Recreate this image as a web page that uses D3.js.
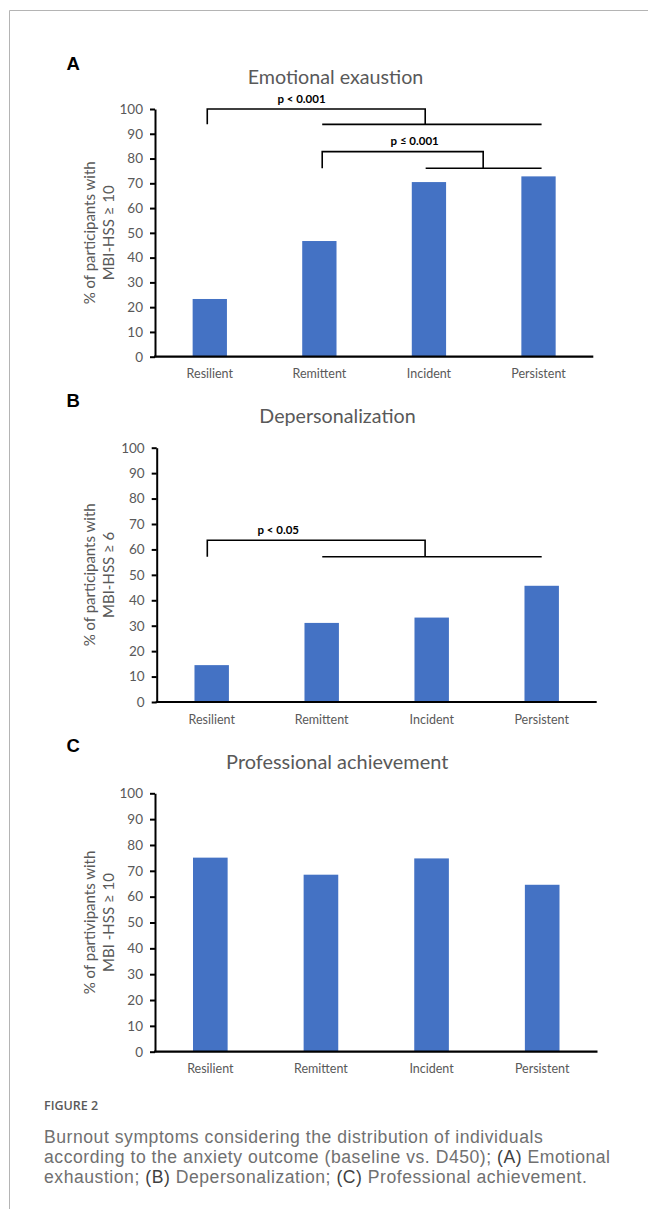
<!DOCTYPE html>
<html>
<head>
<meta charset="utf-8">
<script src="https://cdn.jsdelivr.net/npm/d3@7/dist/d3.min.js"></script>
<style>
  html, body { margin: 0; padding: 0; background: #fff; }
  svg { display: block; }
</style>
</head>
<body>
<svg id="chart" width="648" height="1209"></svg>
<script>
// ---------------- DATA ----------------
const categories = ["Resilient", "Remittent", "Incident", "Persistent"];
const emotionalExhaustion = [23.3, 46.7, 70.5, 72.8];
const depersonalization = [14.5, 31.1, 33.2, 45.7];
const professionalAchievement = [75.1, 68.5, 74.8, 64.6];
const yTicks = [0, 10, 20, 30, 40, 50, 60, 70, 80, 90, 100];
const panelLetters = ["A", "B", "C"];
const panelTitles = ["Emotional exaustion", "Depersonalization", "Professional achievement"];
const yTitleLine1 = ["% of participants with", "% of participants with", "% of partivipants with"];
const yTitleLine2 = ["MBI-HSS \u2265 10", "MBI-HSS \u2265 6", "MBI -HSS \u2265 10"];
// significance brackets: positions on category axis (0..4), levels in % units
const bracketsA = [
  { left: 0.477, joint: 2.466, lowFrom: 1.526, lowTo: 3.528, upper: 100, lower: 93.8, label: "p < 0.001", labelPos: 1.337 },
  { left: 1.526, joint: 2.995, lowFrom: 2.47, lowTo: 3.528, upper: 82.8, lower: 76.1, label: "p \u2264 0.001", labelPos: 2.37 }
];
const bracketsB = [
  { left: 0.46, joint: 2.44, lowFrom: 1.505, lowTo: 3.5, upper: 63.6, lower: 57.1, label: "p < 0.05", labelPos: 1.105 }
];
const bracketsC = [];
const captionHead = "FIGURE 2";
const captionLines = [
  [["Burnout symptoms considering the distribution of individuals", false]],
  [["according to the anxiety outcome (baseline vs. D450); ", false], ["(A)", true], [" Emotional", false]],
  [["exhaustion; ", false], ["(B)", true], [" Depersonalization; ", false], ["(C)", true], [" Professional achievement.", false]]
];

// ---------------- LAYOUT ----------------
const panels = [
  { values: emotionalExhaustion, brackets: bracketsA, x0: 155, x1: 593.3, yTop: 109, y0: 356.7,
    titleX: 335.5, titleY: 84, titleW: 175.7, letterY: 70 },
  { values: depersonalization, brackets: bracketsB, x0: 156.7, x1: 596.7, yTop: 447.7, y0: 702,
    titleX: 337.5, titleY: 422.7, titleW: 156.4, letterY: 407.3 },
  { values: professionalAchievement, brackets: bracketsC, x0: 155, x1: 597.5, yTop: 793.3, y0: 1051.7,
    titleX: 337.2, titleY: 769, titleW: 222.3, letterY: 751.7 }
];

const svg = d3.select("#chart");
const FONT = "Lato, 'Open Sans', 'Liberation Sans', sans-serif";
const CAPFONT = "'Liberation Sans', Arial, sans-serif";
const GRAY = "#595959";
const BLUE = "#4472C4";

function fitWidth(sel, target) {
  const node = sel.node();
  const fs = parseFloat(sel.attr("font-size"));
  const w = node.getComputedTextLength();
  if (w > 0) sel.attr("font-size", (fs * target / w).toFixed(2));
}

// card border (top + left)
svg.append("line").attr("x1", 9.5).attr("y1", 10.5).attr("x2", 648).attr("y2", 10.5)
  .attr("stroke", "#b4b4b4").attr("stroke-width", 1);
svg.append("line").attr("x1", 9.5).attr("y1", 10.5).attr("x2", 9.5).attr("y2", 1209)
  .attr("stroke", "#b4b4b4").attr("stroke-width", 1);

panels.forEach((p, i) => {
  const g = svg.append("g");
  const x = d3.scaleBand().domain(categories).range([p.x0, p.x1])
    .paddingInner(0.687).paddingOuter(0.3435);
  const xi = d3.scaleLinear().domain([0, 4]).range([p.x0, p.x1]);
  const y = d3.scaleLinear().domain([0, 100]).range([p.y0, p.yTop]);

  // panel letter
  g.append("text").attr("x", 66.5).attr("y", p.letterY)
    .attr("font-family", "'Liberation Sans', Arial, sans-serif").attr("font-weight", "bold")
    .attr("font-size", 18.5).attr("fill", "#000").text(panelLetters[i]);

  // title
  const t = g.append("text").attr("x", p.titleX).attr("y", p.titleY)
    .attr("text-anchor", "middle").attr("font-family", FONT).attr("font-size", 20)
    .attr("fill", GRAY).text(panelTitles[i]);
  fitWidth(t, p.titleW);

  // bars
  g.selectAll("rect.bar").data(p.values).join("rect").attr("class", "bar")
    .attr("x", (d, k) => x(categories[k]))
    .attr("y", d => y(d))
    .attr("width", x.bandwidth())
    .attr("height", d => y(0) - y(d))
    .attr("fill", BLUE);

  // y axis
  const ya = g.append("g").attr("transform", `translate(${p.x0},0)`)
    .call(d3.axisLeft(y).tickValues(yTicks).tickSize(5).tickSizeOuter(0).tickPadding(7));
  ya.select(".domain").attr("stroke", "#000").attr("stroke-width", 2);
  ya.selectAll(".tick line").attr("stroke", "#000").attr("stroke-width", 2);
  ya.selectAll(".tick text").attr("font-family", FONT).attr("font-size", 13.5).attr("fill", GRAY);

  // x axis
  const xa = g.append("g").attr("transform", `translate(0,${p.y0})`)
    .call(d3.axisBottom(x).tickSize(0).tickSizeOuter(0).tickPadding(12.8));
  xa.select(".domain").attr("stroke", "#000").attr("stroke-width", 2.2)
    .attr("d", `M${p.x0 - 1},0H${p.x1}`);
  xa.selectAll(".tick text").attr("font-family", FONT).attr("font-size", 12.5).attr("fill", GRAY);

  // y axis title
  const cy = (p.yTop + p.y0) / 2;
  g.append("text").attr("transform", `translate(${89.5},${cy}) rotate(-90)`)
    .attr("text-anchor", "middle").attr("dy", "0.35em")
    .attr("font-family", FONT).attr("font-size", 15).attr("fill", GRAY)
    .text(yTitleLine1[i]);
  g.append("text").attr("transform", `translate(${109},${cy}) rotate(-90)`)
    .attr("text-anchor", "middle").attr("dy", "0.35em")
    .attr("font-family", FONT).attr("font-size", 15).attr("fill", GRAY)
    .text(yTitleLine2[i]);

  // significance brackets
  p.brackets.forEach(b => {
    g.append("path")
      .attr("d", `M${xi(b.left)},${y(b.lower)}V${y(b.upper)}H${xi(b.joint)}V${y(b.lower)}`)
      .attr("fill", "none").attr("stroke", "#000").attr("stroke-width", 1.6);
    g.append("path")
      .attr("d", `M${xi(b.lowFrom)},${y(b.lower)}H${xi(b.lowTo)}`)
      .attr("fill", "none").attr("stroke", "#000").attr("stroke-width", 1.6);
    g.append("text").attr("x", xi(b.labelPos)).attr("y", y(b.upper + 2.6))
      .attr("text-anchor", "middle").attr("font-family", FONT).attr("font-weight", "bold")
      .attr("font-size", 11.5).attr("fill", "#000").text(b.label);
  });
});

// caption
svg.append("text").attr("x", 44).attr("y", 1110)
  .attr("font-family", "'Open Sans', sans-serif").attr("font-size", 12.5).attr("font-weight", 600)
  .attr("fill", "#5a5a5a").text(captionHead);

const capG = svg.append("g");
const capTexts = captionLines.map((parts, li) => {
  const t = capG.append("text").attr("x", 44).attr("y", 1143.3 + li * 20)
    .attr("font-family", CAPFONT).attr("font-size", 17.6).attr("fill", "#707070");
  parts.forEach(([s, bold]) => {
    const ts = t.append("tspan").text(s);
    if (bold) ts.attr("fill", "#3f3f3f");
  });
  return t;
});
// widen the caption with letter-spacing so the widest line matches the reference width
{
  const t = capTexts[1];
  const w = t.node().getComputedTextLength();
  const n = t.text().length;
  const ls = Math.max(0, (566 - w) / (n - 1));
  capTexts.forEach(tt => tt.attr("letter-spacing", ls.toFixed(3)));
}
</script>
</body>
</html>
